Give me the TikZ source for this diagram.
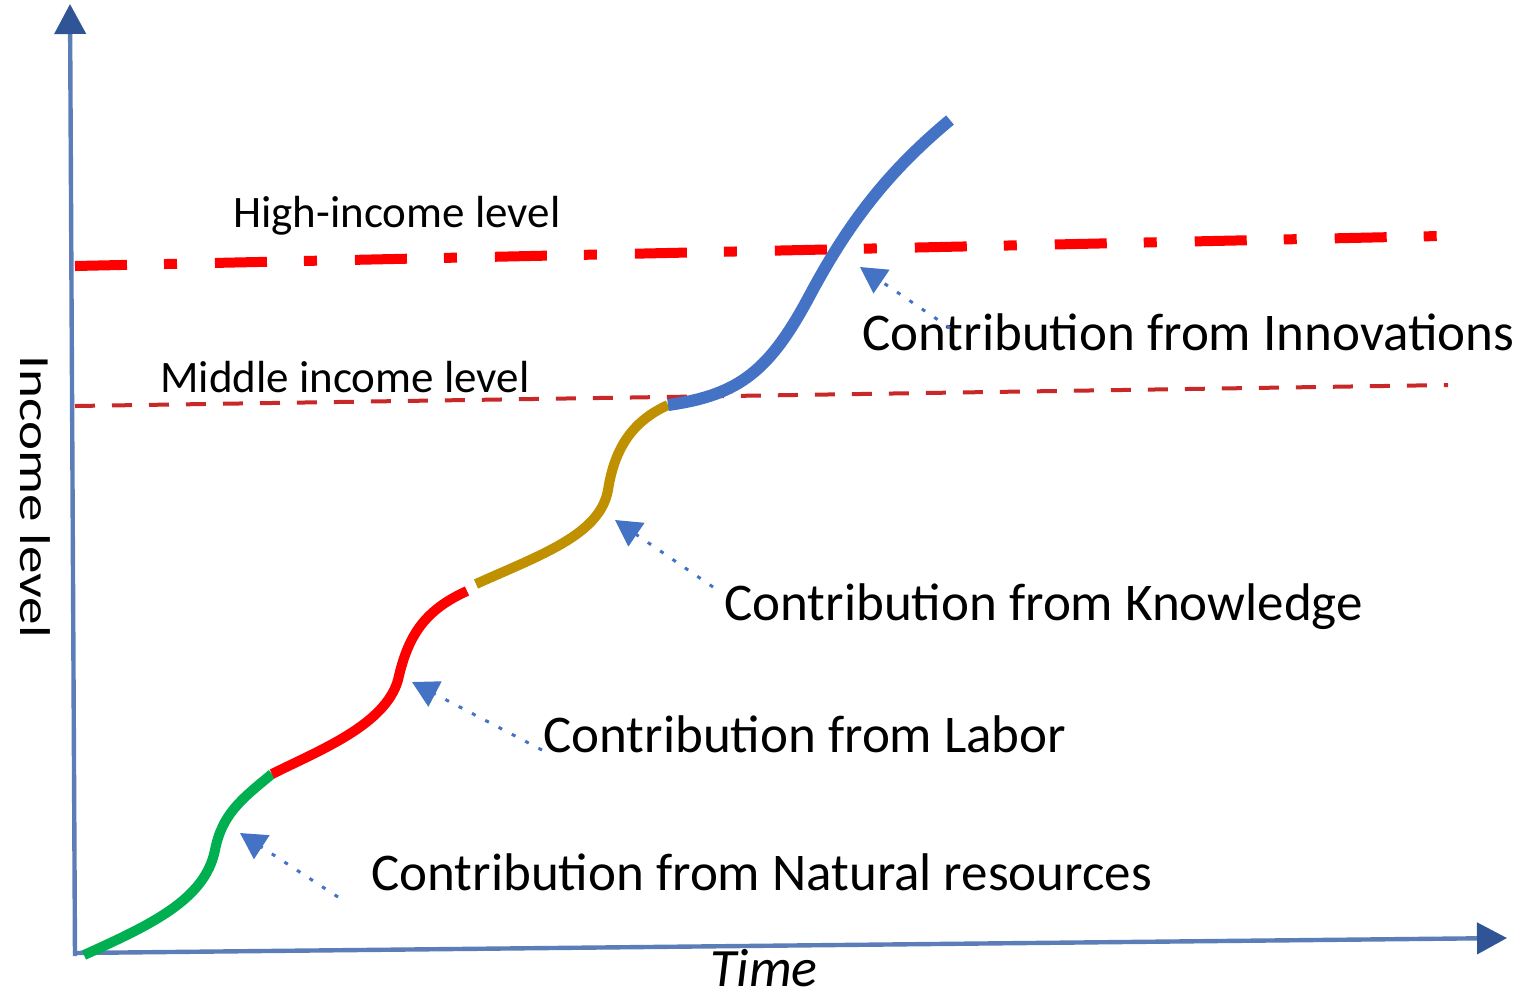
\documentclass[tikz,border=0pt]{standalone}
\usepackage{fontspec}
\setmainfont{Carlito}
\usetikzlibrary{arrows.meta}
\definecolor{axisc}{HTML}{5B7DB8}
\definecolor{axisdark}{HTML}{2F5597}
\definecolor{cgreen}{HTML}{00B050}
\definecolor{cred}{HTML}{FF0000}
\definecolor{cgold}{HTML}{BF9000}
\definecolor{cblue}{HTML}{4472C4}
\definecolor{midred}{HTML}{C82828}
\begin{document}
\begin{tikzpicture}[x=0.5pt,y=-0.5pt,
  axis/.style={line width=2.2pt, draw=axisc, -{Triangle[length=15pt,width=15.5pt,color=axisdark]}},
  growth/.style={line width=5pt, line cap=butt},
  highline/.style={draw=cred, line width=5pt, dash pattern=on 26pt off 18.5pt on 6.5pt off 19pt},
  midline/.style={draw=midred, line width=2pt, dash pattern=on 10pt off 8.5pt},
  callout/.style={draw=cblue, line width=1.5pt, dash pattern=on 2pt off 5.5pt, -{Triangle[length=13pt,width=14pt,color=cblue]}},
  lvl/.style={font=\fontsize{22.5}{27}\selectfont, inner sep=0pt, anchor=base west},
  contrib/.style={font=\fontsize{26.5}{32}\selectfont, inner sep=0pt, anchor=base west},
]
\useasboundingbox (0,0) rectangle (1524,998);

% axes
\coordinate (yO) at (75,956);
\coordinate (yTop) at (70,4);
\coordinate (xO) at (73,953);
\coordinate (xEnd) at (1507,938);
\draw[axis] (yO) -- (yTop);
\draw[axis] (xO) -- (xEnd);

% income level lines
\coordinate (hiA) at (75,266);
\coordinate (hiB) at (1440,236);
\coordinate (miA) at (75,406);
\coordinate (miB) at (1448,385);
\draw[highline] (hiA) -- (hiB);
\draw[midline] (miA) -- (miB);

% growth curve
\coordinate (g0) at (84,955);
\coordinate (g1) at (215,850);
\coordinate (g2) at (272,774);
\coordinate (r1) at (398,680);
\coordinate (r2) at (467,591);
\coordinate (k0) at (476,584);
\coordinate (k1) at (608,490);
\coordinate (k2) at (668,405);
\coordinate (b1) at (810,295);
\coordinate (b2) at (950,120);
\draw[growth, draw=cgreen] (g0) .. controls (150,925) and (205,900) .. (g1)
  .. controls (222,815) and (240,800) .. (g2);
\draw[growth, draw=cred] (g2) .. controls (320,750) and (385,725) .. (r1)
  .. controls (408,635) and (425,610) .. (r2);
\draw[growth, draw=cgold] (k0) .. controls (540,555) and (600,535) .. (k1)
  .. controls (615,445) and (635,420) .. (k2);
\draw[growth, line width=6pt, draw=cblue] (k2) .. controls (740,395) and (770,370) .. (b1)
  .. controls (850,220) and (890,170) .. (b2);

% labels
\node[lvl] (hilab) at (233,227) {High-income level};
\node[lvl] (milab) at (160,392) {Middle income level};
\node[contrib] (innov) at (862,350) {Contribution from Innovations};
\node[contrib] (know) at (724,620) {Contribution from Knowledge};
\node[contrib] (labor) at (543,752) {Contribution from Labor};
\node[contrib] (natur) at (371,890) {Contribution from Natural resources};
\node[font=\fontsize{27}{32}\selectfont\itshape, inner sep=0pt, anchor=base west] (time) at (710,986) {Time};
\node[font=\fontsize{21.5}{26}\selectfont, inner sep=0pt, anchor=base west, rotate=-90] (ylab) at (20,355) {\scalebox{1.28}[1]{Income level}};

% callouts
\coordinate (natT) at (338,897);
\coordinate (natH) at (240,833);
\coordinate (labT) at (542,750);
\coordinate (labH) at (412,682);
\coordinate (knoT) at (713,587);
\coordinate (knoH) at (615,520);
\coordinate (innT) at (950,328);
\coordinate (innH) at (860,267);
\draw[callout] (natT) -- (natH);
\draw[callout] (labT) -- (labH);
\draw[callout] (knoT) -- (knoH);
\draw[callout] (innT) -- (innH);
\end{tikzpicture}
\end{document}
